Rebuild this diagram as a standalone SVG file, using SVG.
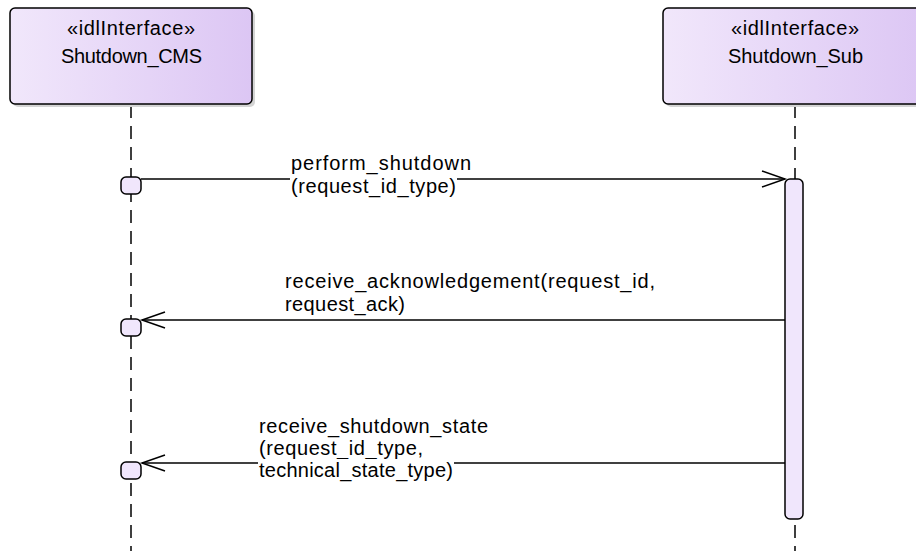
<svg xmlns="http://www.w3.org/2000/svg" width="916" height="551" viewBox="0 0 916 551">
<defs>
<linearGradient id="g" x1="0" y1="0" x2="1" y2="0">
<stop offset="0" stop-color="#f1e7fb"/>
<stop offset="1" stop-color="#dcc6f4"/>
</linearGradient>
<marker id="arr" markerUnits="userSpaceOnUse" markerWidth="28" markerHeight="20" refX="24" refY="10" orient="auto">
<path d="M1,2 L24,10 L1,18" fill="none" stroke="#000" stroke-width="1.5"/>
</marker>
<style>
.box{fill:url(#g);stroke:#000;stroke-width:1.5}
.shadow{fill:#d4d4d4}
.t{font-family:"Liberation Sans",Arial,sans-serif;font-size:20px;fill:#000}
.life{stroke:#000;stroke-width:1.5;stroke-dasharray:13 8;fill:none}
.msg{stroke:#000;stroke-width:1.5;fill:none}
.exec{fill:#f0e6fc;stroke:#000;stroke-width:1.5}
.lblbg{fill:#fff}
</style>
</defs>
<rect width="916" height="551" fill="#fff"/>
<g id="lifelines">
<line class="life" x1="131" y1="105" x2="131" y2="551"/>
<line class="life" x1="795" y1="105" x2="795" y2="551"/>
</g>
<g id="Shutdown_CMS">
<rect class="shadow" x="13" y="11" width="242" height="96" rx="5"/>
<rect class="box" x="10" y="8" width="242" height="96" rx="5"/>
<text class="t" x="67" y="35" textLength="128">«idlInterface»</text>
<text class="t" x="61" y="63" textLength="141">Shutdown_CMS</text>
</g>
<g id="Shutdown_Sub">
<rect class="shadow" x="666" y="11" width="264" height="96" rx="5"/>
<rect class="box" x="663" y="8" width="264" height="96" rx="5"/>
<text class="t" x="731" y="35" textLength="128">«idlInterface»</text>
<text class="t" x="728" y="63" textLength="135">Shutdown_Sub</text>
</g>
<g id="activation">
<rect class="exec" x="785" y="179" width="18" height="340" rx="5"/>
</g>
<g id="exec_left">
<rect class="exec" x="121" y="177" width="20" height="17" rx="5"/>
<rect class="exec" x="121" y="319" width="20" height="17" rx="5"/>
<rect class="exec" x="121" y="462" width="20" height="17" rx="5"/>
</g>
<g id="connectors">
<line class="msg" x1="141" y1="179" x2="785" y2="179" marker-end="url(#arr)"/>
<line class="msg" x1="785" y1="320" x2="142" y2="320" marker-end="url(#arr)"/>
<line class="msg" x1="785" y1="463" x2="142" y2="463" marker-end="url(#arr)"/>
</g>
<g id="labels">
<text class="t" x="291" y="170" textLength="180">perform_shutdown</text>
<rect class="lblbg" x="290" y="175" width="167" height="24"/>
<text class="t" x="291" y="193" textLength="165">(request_id_type)</text>
<text class="t" x="285" y="288" textLength="370">receive_acknowledgement(request_id,</text>
<text class="t" x="285" y="311" textLength="120">request_ack)</text>
<text class="t" x="259" y="433" textLength="229">receive_shutdown_state</text>
<text class="t" x="259" y="455" textLength="164">(request_id_type,</text>
<rect class="lblbg" x="258" y="459" width="196" height="23"/>
<text class="t" x="259" y="477" textLength="194">technical_state_type)</text>
</g>
</svg>
